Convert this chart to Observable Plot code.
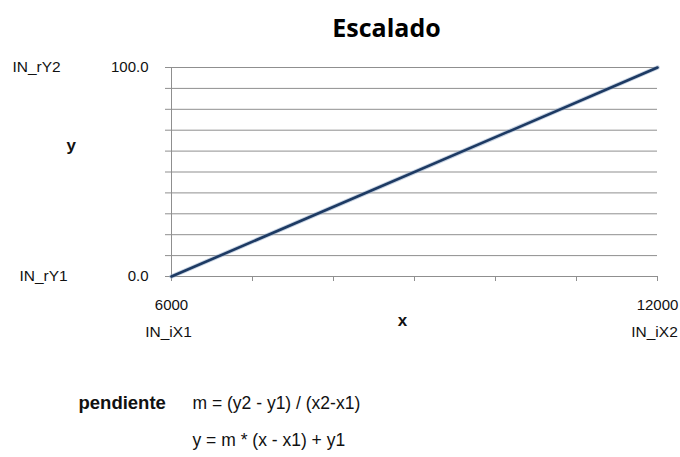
<!DOCTYPE html>
<html>
<head>
<meta charset="utf-8">
<script src="https://cdn.jsdelivr.net/npm/d3@7"></script>
<script src="https://cdn.jsdelivr.net/npm/@observablehq/plot@0.6"></script>
<style>
  html, body { margin: 0; padding: 0; background: #fff; }
  #chart svg { display: block; }
</style>
</head>
<body>
<div id="chart"></div>
<script>
// Linear scaling: input range [x1, x2] mapped onto output range [y1, y2]
const xEnds = [6000, 12000];
const yEnds = [0, 100];
const xTicks = [6000, 7000, 8000, 9000, 10000, 11000, 12000];
const yGrid = [0, 10, 20, 30, 40, 50, 60, 70, 80, 90, 100];
const yEndLabels = ["IN_rY1", "IN_rY2"];
const xEndLabels = ["IN_iX1", "IN_iX2"];

const points = xEnds.map((x, i) => ({x, y: yEnds[i]}));
const font = "'Liberation Sans', Arial, sans-serif";
const gridColor = "#8f8f8f";

const chart = Plot.plot({
  width: 680,
  height: 457,
  marginLeft: 171,
  marginRight: 23,
  marginTop: 67,
  marginBottom: 181,
  style: {fontFamily: font, fontSize: "15px", color: "#111", background: "#fff"},
  x: {domain: xEnds},
  y: {domain: yEnds},
  marks: [
    // horizontal gridlines
    Plot.ruleY(yGrid, {stroke: gridColor, strokeWidth: 1}),
    // left axis line
    Plot.ruleX([xEnds[0]], {stroke: gridColor, strokeWidth: 1}),
    Plot.axisY({
      ticks: yGrid, tickSize: 6, tickPadding: 17, stroke: gridColor,
      tickFormat: d => yEnds.includes(d) ? d.toFixed(1) : "",
      label: null, fill: "#111"
    }),
    Plot.axisX({
      ticks: xTicks, tickSize: 5, tickPadding: 18, stroke: gridColor,
      tickFormat: d => xEnds.includes(d) ? String(d) : "",
      label: null, fill: "#111"
    }),
    // the scaling line
    Plot.line(points, {x: "x", y: "y", stroke: "#8fa8c8", strokeWidth: 4.5, strokeOpacity: 0.5}),
    Plot.line(points, {x: "x", y: "y", stroke: "#1d3a63", strokeWidth: 2.6}),
    // names of the y end values
    Plot.text(yEnds, {y: d => d, text: (d, i) => yEndLabels[i], frameAnchor: "left",
      textAnchor: "start", fontSize: 15.5}),
    // names of the x end values
    Plot.text(xEnds, {x: d => d, text: (d, i) => xEndLabels[i], frameAnchor: "bottom",
      dy: 60, dx: -3, fontSize: 15.5}),
    // axis names
    Plot.text(["y"], {frameAnchor: "left", dx: -105, dy: -26, fontWeight: "bold", fontSize: 17}),
    Plot.text(["x"], {frameAnchor: "bottom", dx: -12, dy: 49, fontWeight: "bold", fontSize: 17}),
    // title
    Plot.text(["Escalado"], {frameAnchor: "top", dx: -28, dy: -48, fontWeight: "bold",
      fontSize: 25, fontFamily: "'Open Sans', sans-serif", fill: "#000"}),
    // formulas
    Plot.text(["pendiente"], {frameAnchor: "bottom-left", dx: -93, dy: 132, textAnchor: "start",
      fontWeight: "bold", fontSize: 18.5}),
    Plot.text(["m = (y2 - y1) / (x2-x1)"], {frameAnchor: "bottom-left", dx: 21, dy: 132,
      textAnchor: "start", fontSize: 17.5}),
    Plot.text(["y = m * (x - x1) + y1"], {frameAnchor: "bottom-left", dx: 21, dy: 169,
      textAnchor: "start", fontSize: 17.5})
  ]
});

// shift the y end names to the left edge of the page
chart.querySelectorAll("g[aria-label='text']").forEach(g => {
  const ts = g.querySelectorAll("text");
  if (ts.length === 2 && ts[0].textContent.startsWith("IN_r")) {
    ts[0].setAttribute("x", +ts[0].getAttribute("x") - 152);
    ts[1].setAttribute("x", +ts[1].getAttribute("x") - 159);
  }
});

document.getElementById("chart").append(chart);
</script>
</body>
</html>
